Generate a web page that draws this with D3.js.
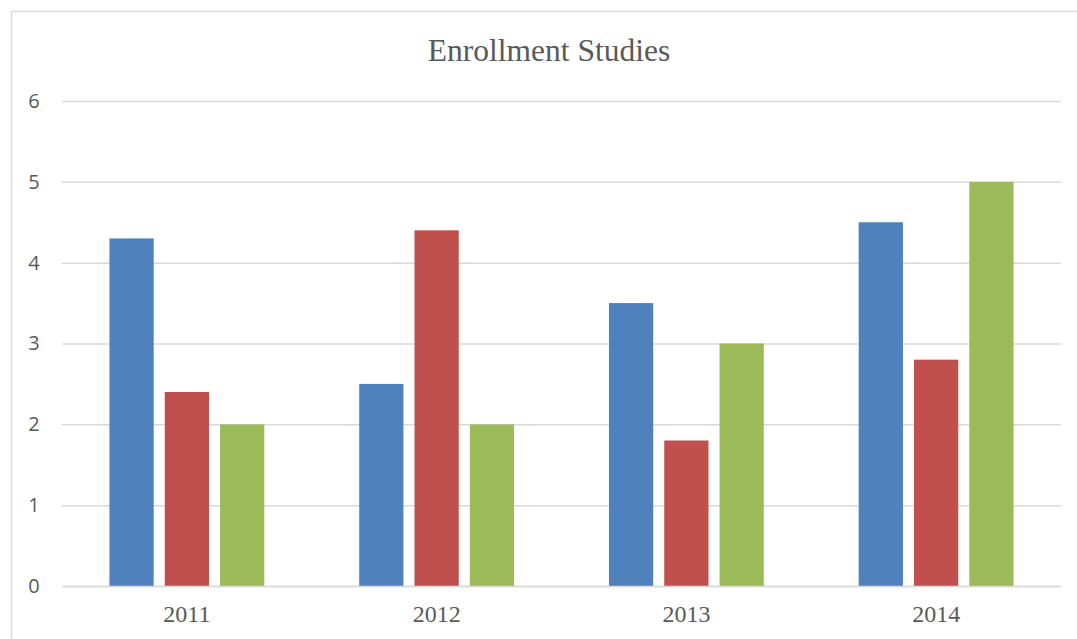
<!DOCTYPE html>
<html>
<head>
<meta charset="utf-8">
<script src="https://cdn.jsdelivr.net/npm/d3@7"></script>
<style>
  body { margin: 0; background: #fff; }
</style>
</head>
<body>
<div id="chart"></div>
<script>
const years = ['2011', '2012', '2013', '2014'];
const seriesNames = ['Series 1', 'Series 2', 'Series 3'];
const series1 = [4.3, 2.5, 3.5, 4.5];
const series2 = [2.4, 4.4, 1.8, 2.8];
const series3 = [2.0, 2.0, 3.0, 5.0];
const yTicks = [0, 1, 2, 3, 4, 5, 6];
const colors = ['#4F81BD', '#C0504D', '#9BBB59'];

const W = 1077, H = 639;
const margin = { top: 101, right: 16, bottom: 53, left: 62 };
const width = W - margin.left - margin.right;
const height = H - margin.top - margin.bottom;

const svg = d3.select('#chart').append('svg')
  .attr('width', W).attr('height', H);

// chart border (runs off the right/bottom edge)
svg.append('rect')
  .attr('x', 11.5).attr('y', 11.5)
  .attr('width', 1080).attr('height', 650)
  .attr('fill', 'none').attr('stroke', '#D9D9D9').attr('stroke-width', 1.5);

svg.append('text')
  .attr('x', 549).attr('y', 61)
  .attr('text-anchor', 'middle')
  .style('font-family', '"Liberation Serif", "Times New Roman", serif')
  .style('font-size', '31.5px')
  .style('fill', '#595959')
  .text('Enrollment Studies');

const g = svg.append('g').attr('transform', `translate(${margin.left},${margin.top})`);

const yScale = d3.scaleLinear().domain([0, 6]).range([height, 0]);
const xScale = d3.scaleBand().domain(years).range([0, width]);
const inner = d3.scaleBand().domain(seriesNames)
  .range([xScale.bandwidth() * 0.19, xScale.bandwidth() * 0.81])
  .paddingInner(0.2);

// gridlines
const yAxis = d3.axisLeft(yScale).tickValues(yTicks).tickSize(-width).tickFormat(d3.format('d'));
const yAxisDraw = g.append('g').call(yAxis);
yAxisDraw.select('.domain').remove();
yAxisDraw.selectAll('line').attr('stroke', '#D9D9D9').attr('stroke-width', 1.5);
yAxisDraw.selectAll('text')
  .attr('x', -28)
  .attr('text-anchor', 'middle')
  .style('font-family', '"Open Sans", "Liberation Sans", sans-serif')
  .style('font-size', '20px')
  .style('fill', '#595959');

const data = years.map((y, i) => ({
  year: y,
  values: [series1[i], series2[i], series3[i]]
}));

const groups = g.selectAll('.grp').data(data).enter().append('g')
  .attr('class', 'grp')
  .attr('transform', d => `translate(${xScale(d.year)},0)`);

groups.selectAll('rect')
  .data(d => d.values.map((v, j) => ({ name: seriesNames[j], v, j })))
  .enter().append('rect')
  .attr('x', d => inner(d.name))
  .attr('y', d => yScale(d.v))
  .attr('width', inner.bandwidth())
  .attr('height', d => height - yScale(d.v))
  .attr('fill', d => colors[d.j]);

// x axis
const xAxisDraw = g.append('g').attr('transform', `translate(0,${height})`)
  .call(d3.axisBottom(xScale).tickSize(0));
xAxisDraw.select('.domain').attr('stroke', '#D9D9D9').attr('stroke-width', 1.5);
xAxisDraw.selectAll('text')
  .attr('dy', '0')
  .attr('y', 36)
  .style('font-family', '"Liberation Serif", "Times New Roman", serif')
  .style('font-size', '24px')
  .style('fill', '#595959');
</script>
</body>
</html>
